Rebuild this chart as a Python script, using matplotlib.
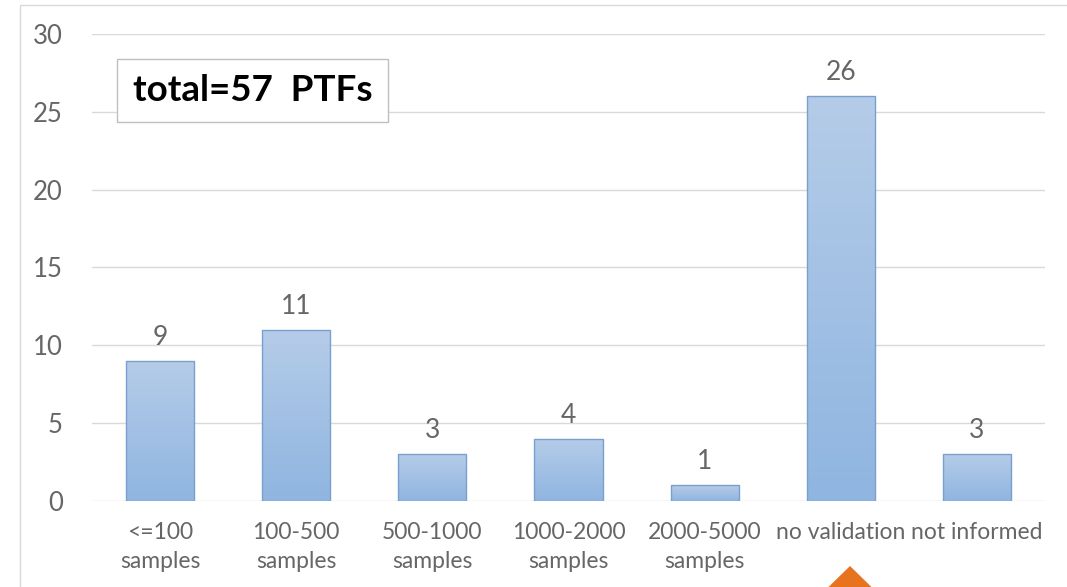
import matplotlib
matplotlib.use("Agg")
import matplotlib.pyplot as plt
import numpy as np
from matplotlib.patches import Polygon, Rectangle

categories = ["<=100\nsamples", "100-500\nsamples", "500-1000\nsamples",
              "1000-2000\nsamples", "2000-5000\nsamples", "no validation", "not informed"]
counts = [9, 11, 3, 4, 1, 26, 3]
yticks = [0, 5, 10, 15, 20, 25, 30]

plt.rcParams['font.family'] = ['Lato', 'DejaVu Sans']
gray = '#666666'

fig = plt.figure(figsize=(10.67, 5.87), dpi=100)
ax = fig.add_axes([0.0862, 0.1465, 0.8932, 0.7956])

x = np.arange(len(categories))
bars = ax.bar(x, counts, width=0.5, color='none', edgecolor='#7A9FCF', linewidth=1.0, zorder=3)

# vertical gradient fill, lighter at the top
grad = np.linspace(0, 1, 256).reshape(-1, 1)
top = np.array([0.71, 0.80, 0.91])
bot = np.array([0.56, 0.71, 0.88])
img = (bot[None, None, :] * (1 - grad[..., None]) + top[None, None, :] * grad[..., None])
for b in bars:
    bx, by = b.get_x(), b.get_y()
    w, h = b.get_width(), b.get_height()
    im = ax.imshow(img, extent=[bx, bx + w, by, by + h], origin='lower',
                   aspect='auto', zorder=2, interpolation='bilinear')
    im.set_clip_path(b)

for xi, v in zip(x, counts):
    ax.annotate(str(v), (xi, v), xytext=(0, 8), textcoords='offset points',
                ha='center', va='bottom', fontsize=19, color=gray)

ax.set_xlim(-0.5, len(categories) - 0.5)
ax.set_ylim(0, 30)
ax.set_yticks(yticks)
ax.set_xticks(x)
ax.set_xticklabels(categories, fontsize=16.5, color=gray, linespacing=1.5)
ax.tick_params(axis='y', labelsize=18.5, labelcolor=gray, length=0, pad=21)
ax.tick_params(axis='x', length=0, pad=15)
ax.grid(axis='y', color='#D9D9D9', linewidth=1.0, zorder=0)
ax.set_axisbelow(True)
for s in ax.spines.values():
    s.set_visible(False)

ax.text(0.043, 0.879, "total=57  PTFs", transform=ax.transAxes, fontsize=26.5,
        fontweight='bold', color='black', va='center', ha='left',
        bbox=dict(boxstyle='square,pad=0.42', facecolor='white', edgecolor='#BFBFBF', linewidth=1.0),
        zorder=5)

# outer chart frame
W, H = 1067, 587
fig.patches.append(Rectangle((20 / W, -0.1), 1.1, 1.1 - 5 / H, transform=fig.transFigure,
                             fill=False, edgecolor='#D9D9D9', linewidth=1.0, zorder=0))

# orange arrow head at the bottom
tri = Polygon([(850 / W, 1 - 566 / H), (806 / W, 1 - 609 / H), (894 / W, 1 - 609 / H)],
              closed=True, transform=fig.transFigure, facecolor='#E8731E', edgecolor='none', zorder=10)
fig.patches.append(tri)

fig.savefig("out.png", dpi=100, facecolor='white')
